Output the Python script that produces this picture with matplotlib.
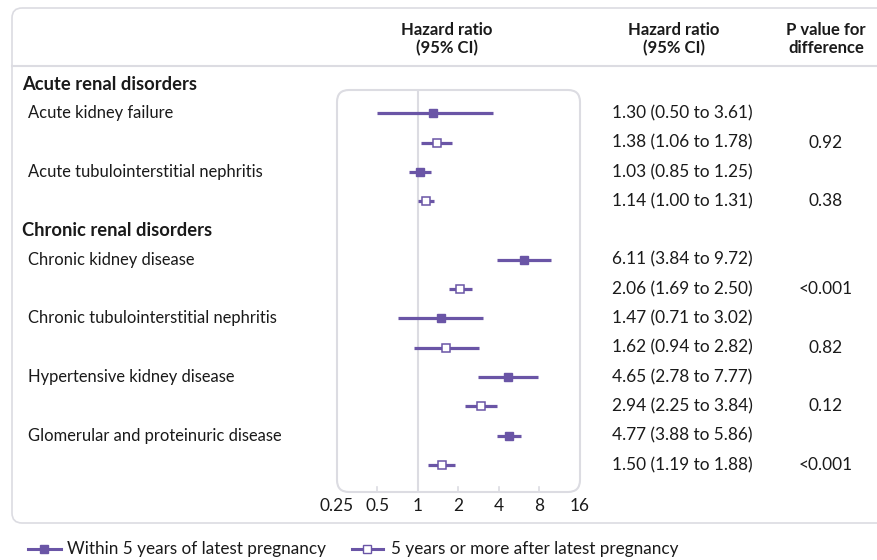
import numpy as np
import matplotlib.pyplot as plt
from matplotlib.patches import FancyBboxPatch

plt.rcParams['font.family'] = ['Lato', 'DejaVu Sans']

# data
groups = ['Acute renal disorders', 'Chronic renal disorders']
outcomes = ['Acute kidney failure', 'Acute tubulointerstitial nephritis',
            'Chronic kidney disease', 'Chronic tubulointerstitial nephritis',
            'Hypertensive kidney disease', 'Glomerular and proteinuric disease']
outcome_group = [0, 0, 1, 1, 1, 1]
hr_within = [1.30, 1.03, 6.11, 1.47, 4.65, 4.77]
lo_within = [0.50, 0.85, 3.84, 0.71, 2.78, 3.88]
hi_within = [3.61, 1.25, 9.72, 3.02, 7.77, 5.86]
hr_after = [1.38, 1.14, 2.06, 1.62, 2.94, 1.50]
lo_after = [1.06, 1.00, 1.69, 0.94, 2.25, 1.19]
hi_after = [1.78, 1.31, 2.50, 2.82, 3.84, 1.88]
p_values = ['0.92', '0.38', '<0.001', '0.82', '0.12', '<0.001']
xticks = [0.25, 0.5, 1, 2, 4, 8, 16]
xtick_labels = ['0.25', '0.5', '1', '2', '4', '8', '16']
series_names = ['Within 5 years of latest pregnancy',
                '5 years or more after latest pregnancy']

purple = '#6a55a6'
grey = '#dcdce2'
txt = '#1a1a1a'
W, H = 878, 560
fs = 11.9     # labels
fn = 12.4     # numbers
fl = 12.3     # legend

fig = plt.figure(figsize=(W / 100, H / 100), dpi=100)
# background axes in pixel coords (y down)
bg = fig.add_axes([0, 0, 1, 1])
bg.set_xlim(0, W)
bg.set_ylim(H, 0)
bg.axis('off')

# outer box
bg.add_patch(FancyBboxPatch((12, 8), 900, 515, boxstyle='round,pad=0,rounding_size=10',
                            fc='none', ec=grey, lw=1.2))
bg.plot([12, W], [66, 66], color=grey, lw=1.5)

# headers
for xh, lab in [(447, 'Hazard ratio\n(95% CI)'), (674, 'Hazard ratio\n(95% CI)'),
                (826, 'P value for\ndifference')]:
    bg.text(xh, 39, lab, ha='center', va='center', fontsize=12, fontweight='bold',
            color=txt, linespacing=1.1)

# row layout
row0, step = 84, 29.3
rows_within, rows_after = [], []
r = 0
last_group = -1
for i, g in enumerate(outcome_group):
    if g != last_group:
        bg.text(22, row0 + r * step, groups[g], ha='left', va='center',
                fontsize=13.2, fontweight='bold', color=txt)
        r += 1
        last_group = g
    rows_within.append(r)
    rows_after.append(r + 1)
    bg.text(28, row0 + r * step, outcomes[i], ha='left', va='center',
            fontsize=fs, color=txt)
    bg.text(612, row0 + r * step,
            '%.2f (%.2f to %.2f)' % (hr_within[i], lo_within[i], hi_within[i]),
            ha='left', va='center', fontsize=fn, color=txt)
    bg.text(612, row0 + (r + 1) * step,
            '%.2f (%.2f to %.2f)' % (hr_after[i], lo_after[i], hi_after[i]),
            ha='left', va='center', fontsize=fn, color=txt)
    bg.text(826, row0 + (r + 1) * step, p_values[i], ha='center', va='center',
            fontsize=fn, color=txt)
    r += 2

# forest panel
px0, px1, py0, py1 = 337, 580, 90, 492
bg.add_patch(FancyBboxPatch((px0, py0), px1 - px0, py1 - py0,
                            boxstyle='round,pad=0,rounding_size=12',
                            fc='none', ec=grey, lw=1.5))
ax = fig.add_axes([px0 / W, 1 - py1 / H, (px1 - px0) / W, (py1 - py0) / H])
ax.set_xscale('log', base=2)
ax.set_xlim(0.25, 16)
ax.set_ylim((py1 - row0) / step, (py0 - row0) / step)
ax.axis('off')
ax.axvline(1, color=grey, lw=1.5, zorder=0)
ymax = ax.get_ylim()[0]
for t in [0.5, 2, 4, 8]:
    ax.plot([t, t], [ymax, ymax - 0.17], color=grey, lw=1.2)

ax.hlines(rows_within, lo_within, hi_within, color=purple, lw=2.3)
ax.plot(hr_within, rows_within, 's', ms=6.2, color=purple, ls='none')
ax.hlines(rows_after, lo_after, hi_after, color=purple, lw=2.3)
ax.plot(hr_after, rows_after, 's', ms=6.2, mfc='white', mec=purple, mew=1.1, ls='none')

for t, lab in zip(xticks, xtick_labels):
    xp = px0 + (np.log2(t) + 2) / 6 * (px1 - px0)
    bg.text(xp, 506, lab, ha='center', va='center', fontsize=fn, color=txt)

# legend
ly = 549
bg.plot([28, 61], [ly, ly], color=purple, lw=2.2)
bg.plot([44.5], [ly], 's', ms=5.5, color=purple)
bg.text(67, ly, series_names[0], ha='left', va='center', fontsize=fl, color=txt)
bg.plot([352, 383], [ly, ly], color=purple, lw=2.2)
bg.plot([367.5], [ly], 's', ms=5.5, mfc='white', mec=purple, mew=1.0)
bg.text(391, ly, series_names[1], ha='left', va='center', fontsize=fl, color=txt)

fig.savefig('out.png', dpi=100)
